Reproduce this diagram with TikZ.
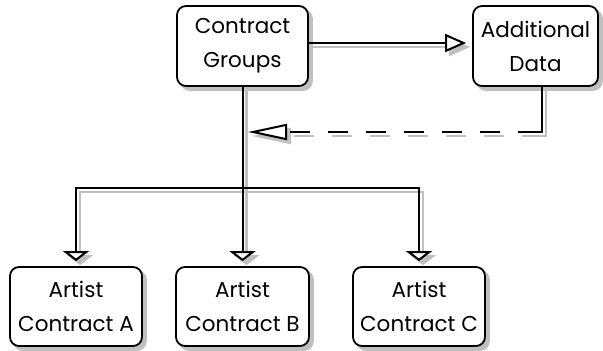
\documentclass[tikz,border=0pt]{standalone}
\usepackage{fontspec}
\setmainfont{Poppins}
\usetikzlibrary{arrows.meta,calc}
\definecolor{shadowgray}{RGB}{192,192,192}

\begin{document}
\begin{tikzpicture}[x=1pt,y=-1pt,
  boxbase/.style={rounded corners=9pt, inner sep=0pt, minimum height=80pt},
  box/.style={boxbase, draw, line width=1.8pt, fill=white, align=center,
    font=\fontsize{21.5}{34}\selectfont},
  boxshade/.style={boxbase, fill=shadowgray, line width=1.8pt, draw=shadowgray},
  link/.style={line width=2pt, draw=black},
  shade/.style={line width=2.4pt, draw=shadowgray},
  tipdown/.style={-{Triangle[length=10pt, width=26pt, fill=#1]}, shorten >=5pt},
  tipdown/.default=white,
  tipright/.style={-{Triangle[length=21pt, width=18pt, fill=#1]}, shorten >=6pt},
  tipright/.default=white,
  tipback/.style={-{Triangle[length=39pt, width=16pt, fill=#1]}, shorten >=5.5pt},
  tipback/.default=white,
  backdash/.style={dash pattern=on 69pt off 18pt on 20pt off 18pt on 20pt off 18pt
    on 20pt off 18pt on 20pt off 18pt on 20pt off 18pt on 20pt off 18pt on 40pt},
]
\useasboundingbox (0,0) rectangle (603,351);

% box shadows, offset down and to the right
\node[boxshade, minimum width=131pt] (cg-sh) at (246.5,50) {};
\node[boxshade, minimum width=125pt] (ad-sh) at (539.5,50) {};
\node[boxshade, minimum width=132pt, minimum height=79pt] (A-sh) at (80,310.5) {};
\node[boxshade, minimum width=133pt, minimum height=79pt] (B-sh) at (246.5,310.5) {};
\node[boxshade, minimum width=132pt, minimum height=79pt] (C-sh) at (423,310.5) {};

% boxes
\node[box, minimum width=131pt] (cg) at (242.5,46) {Contract\\Groups};
\node[box, minimum width=125pt] (ad) at (535.5,46) {Additional\\Data};
\node[box, minimum width=132pt, minimum height=79pt] (A) at (76,306.5) {Artist\\Contract A};
\node[box, minimum width=133pt, minimum height=79pt] (B) at (242.5,306.5) {Artist\\Contract B};
\node[box, minimum width=132pt, minimum height=79pt] (C) at (419,306.5) {Artist\\Contract C};

% junction points of the connectors
\coordinate (bus) at (0,188);
\coordinate (j) at (242.5,132);

% the same end points, moved down and right for the connector shadows
\coordinate (cgE) at ([shift={(4pt,-1pt)}]cg.east);
\coordinate (adW) at ([shift={(4pt,-1pt)}]ad.west);
\coordinate (adS) at ([shift={(10.5pt,-4pt)}]ad.south);
\coordinate (cgS) at ([shift={(4pt,-4pt)}]cg.south);
\coordinate (AN) at ([shift={(4pt,-4pt)}]A.north);
\coordinate (BN) at ([shift={(4pt,-4pt)}]B.north);
\coordinate (CN) at ([shift={(4pt,-4pt)}]C.north);
\coordinate (bus-sh) at (4,192);
\coordinate (j-sh) at (246.5,136);

% connector shadows
\draw[shade, tipright=shadowgray] (cgE) -- (adW);
\draw[shade, backdash, tipback=shadowgray] (adS) |- (j-sh);
\draw[shade, tipdown=shadowgray] (cgS) -- (cgS |- bus-sh) -| (AN);
\draw[shade, tipdown=shadowgray] (cgS) -- (BN);
\draw[shade, tipdown=shadowgray] (cgS) -- (cgS |- bus-sh) -| (CN);

% connectors
\draw[link, tipright] ([yshift=3pt]cg.east) -- ([yshift=3pt]ad.west);
\draw[link, backdash, tipback] ([xshift=6.5pt]ad.south) |- (j);
\draw[link, tipdown] (cg.south) -- (cg.south |- bus) -| (A.north);
\draw[link, tipdown] (cg.south) -- (B.north);
\draw[link, tipdown] (cg.south) -- (cg.south |- bus) -| (C.north);
\end{tikzpicture}
\end{document}
